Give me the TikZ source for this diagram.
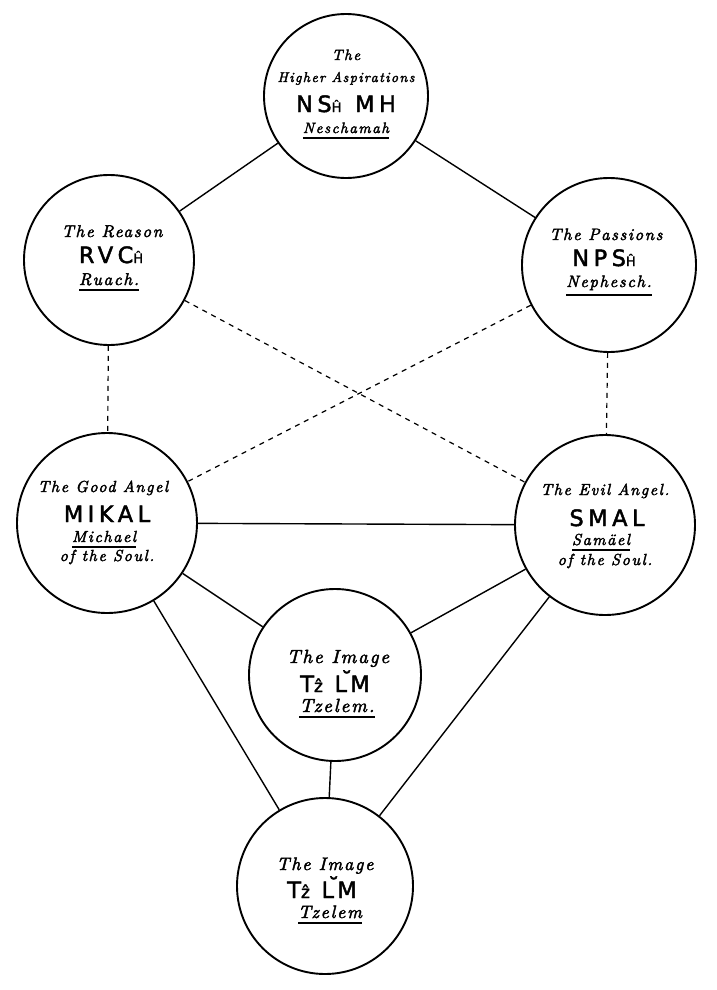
\documentclass[tikz,border=0pt]{standalone}
\usepackage{fontspec}
\newfontfamily\capsfont[LetterSpace=20,FakeBold=2]{DejaVu Sans}
\newfontfamily\capsplain[FakeBold=2]{DejaVu Sans}
\newfontfamily\scrfont{lmroman10-italic}[Extension=.otf,LetterSpace=10,FakeBold=2.5]
\newcommand\smh{{\capsplain\fontsize{13}{13}\selectfont Ĥ}\hspace{2pt}}
\newcommand\smz{{\capsplain\fontsize{17}{17}\selectfont ẑ}}
\newcommand\brv{\kern-6pt\raisebox{4pt}{\capsplain ˘}\kern-2pt}
\newcommand\ulw[1]{\leavevmode\vtop{\hbox{#1}\kern4pt\hrule height 1.5pt}}
\begin{document}
\begin{tikzpicture}[x=1pt,y=-1pt,
  ring/.style={circle,draw,line width=1.9pt,inner sep=0pt,minimum size=2*#1},
  solidlink/.style={line width=1.4pt},
  dashlink/.style={line width=1.2pt,dash pattern=on 5pt off 5pt},
  itx/.style={inner sep=0pt,anchor=base,font=\scrfont\fontsize{#1}{#1}\selectfont},
  hb/.style={inner sep=0pt,anchor=base,font=\capsfont\fontsize{22.5}{22.5}\selectfont}]
\fill[white] (0,0) rectangle (716,990);
\useasboundingbox (0,0) rectangle (716,990);

\node[ring=82] (nesch) at (346,96) {};
\node[ring=85] (ruach) at (109,260) {};
\node[ring=87] (neph) at (609,265) {};
\node[ring=90] (mikal) at (107,523) {};
\node[ring=90] (smal) at (605,525) {};
\node[ring=86] (tzel1) at (335,675) {};
\node[ring=88] (tzel2) at (325,886) {};

\draw[solidlink] (nesch) -- (ruach);
\draw[solidlink] (nesch) -- (neph);
\draw[solidlink] (mikal) -- (smal);
\draw[solidlink] (mikal) -- (tzel1);
\draw[solidlink] (smal) -- (tzel1);
\draw[solidlink] (mikal) -- (tzel2);
\draw[solidlink] (smal) -- (tzel2);
\draw[solidlink] (tzel1) -- (tzel2);
\draw[dashlink] (ruach) -- (mikal);
\draw[dashlink] (neph) -- (smal);
\draw[dashlink] (ruach) -- (smal);
\draw[dashlink] (neph) -- (mikal);

% Neschamah
\node[itx=15] (n1) at ([yshift=36pt]nesch.center) {The};
\node[itx=14] (n2) at ([yshift=14pt]nesch.center) {Higher Aspirations};
\node[hb] (n3) at ([yshift=-16pt]nesch.center) {NS\smh\ MH};
\node[itx=15] (n4) at ([yshift=-37pt]nesch.center) {\ulw{Neschamah}};
% Ruach
\node[itx=17] (r1) at ([xshift=3pt,yshift=23pt]ruach.center) {The Reason};
\node[hb] (r2) at ([xshift=2pt,yshift=-3pt]ruach.center) {RVC\smh};
\node[itx=17] (r3) at ([yshift=-25pt]ruach.center) {\ulw{Ruach.}};
% Nephesch
\node[itx=16.5] (p1) at ([xshift=-3pt,yshift=25pt]neph.center) {The Passions};
\node[hb] (p2) at ([xshift=-5pt,yshift=-1pt]neph.center) {NPS\smh};
\node[itx=16.5] (p3) at ([yshift=-22pt]neph.center) {\ulw{Nephesch.}};
% Mikal
\node[itx=16] (m1) at ([xshift=-4pt,yshift=31pt]mikal.center) {The Good Angel};
\node[hb] (m2) at ([yshift=1pt]mikal.center) {MIKAL};
\node[itx=16] (m3) at ([xshift=-3pt,yshift=-19pt]mikal.center) {\ulw{Michael}};
\node[itx=16] (m4) at ([yshift=-38pt]mikal.center) {of the Soul.};
% Smal
\node[itx=16] (s1) at ([yshift=30pt]smal.center) {The Evil Angel.};
\node[hb] (s2) at ([xshift=2pt,yshift=-1pt]smal.center) {SMAL};
\node[itx=16] (s3) at ([xshift=-4pt,yshift=-20pt]smal.center) {\ulw{Samäel}};
\node[itx=16] (s4) at ([yshift=-40pt]smal.center) {of the Soul.};
% Tzelem 1
\node[itx=19] (a1) at ([xshift=3pt,yshift=12pt]tzel1.center) {The Image};
\node[hb] (a2) at ([yshift=-17pt]tzel1.center) {T\smz\ L\brv M};
\node[itx=19] (a3) at ([xshift=2pt,yshift=-37pt]tzel1.center) {\ulw{Tzelem.}};
% Tzelem 2
\node[itx=18] (b1) at ([yshift=16pt]tzel2.center) {The Image};
\node[hb] (b2) at ([xshift=-3pt,yshift=-12pt]tzel2.center) {T\smz\ L\brv M};
\node[itx=18] (b3) at ([xshift=5pt,yshift=-32pt]tzel2.center) {\ulw{Tzelem}};
\end{tikzpicture}
\end{document}
